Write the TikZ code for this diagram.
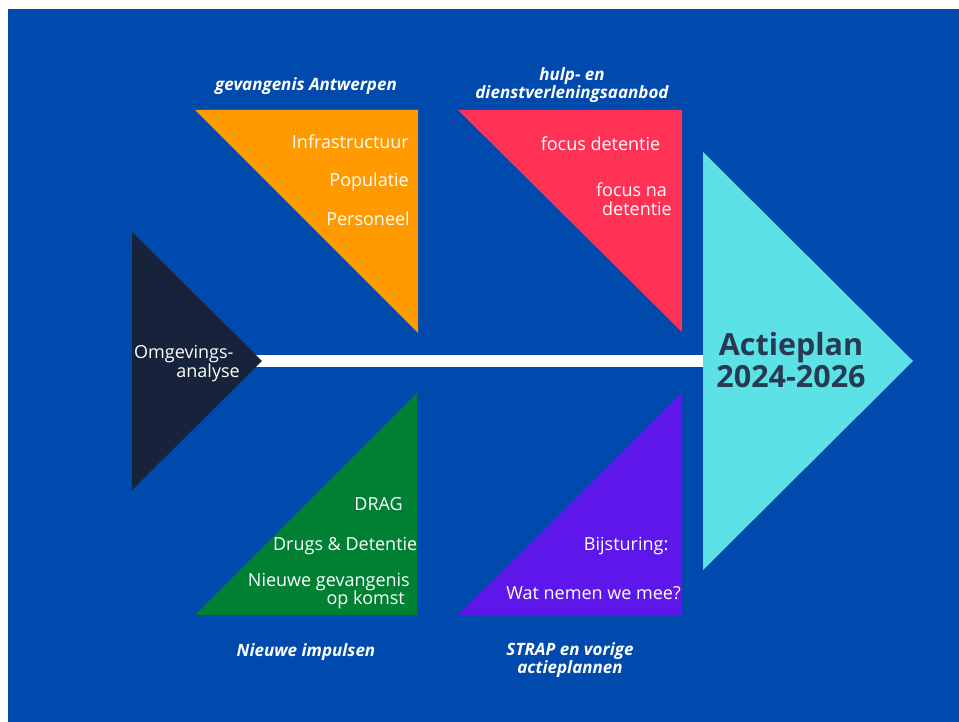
\documentclass[tikz,border=0pt]{standalone}
\usepackage{fontspec}
\setmainfont{Open Sans}
\definecolor{bgblue}{HTML}{004AAD}
\definecolor{orng}{HTML}{FF9A00}
\definecolor{rd}{HTML}{FF3154}
\definecolor{navy}{HTML}{17223B}
\definecolor{grn}{HTML}{008033}
\definecolor{purp}{HTML}{5E17EB}
\definecolor{cyn}{HTML}{5CE1E6}
\definecolor{darktxt}{HTML}{263A52}
\begin{document}
\begin{tikzpicture}[x=1pt,y=-1pt,
  item/.style={text=white,font=\fontsize{18}{18}\selectfont,inner sep=0pt},
  head/.style={text=white,font=\fontsize{17}{17}\selectfont\bfseries\itshape,inner sep=0pt},
  big/.style={text=darktxt,font=\fontsize{30.5}{30.5}\selectfont\bfseries,inner sep=0pt}]
\useasboundingbox (0,0) rectangle (959,722);
\fill[white] (0,0) rectangle (959,722);
\fill[bgblue] (8,9) rectangle (959,722);
% shapes
\coordinate (navyTop) at (132,232);
\coordinate (navyTip) at (262,361);
\coordinate (navyBot) at (132,490);
\coordinate (cyTop) at (703,152);
\coordinate (cyTip) at (913,361);
\coordinate (cyBot) at (703,570);
\coordinate (barL) at (255,361);
\coordinate (barR) at (704,361);
\draw[white,line width=12pt] (barL) -- (barR);
\fill[navy] (navyTop) -- (navyTip) -- (navyBot) -- cycle;
\fill[cyn] (cyTop) -- (cyTip) -- (cyBot) -- cycle;
\fill[orng] (195,110) -- (418,110) -- (418,333) -- cycle;
\fill[rd] (458,110) -- (682,110) -- (682,332) -- cycle;
\fill[grn] (195,615) -- (417,393) -- (417,615) -- cycle;
\fill[purp] (458,615) -- (682,393) -- (682,615) -- cycle;
% headers
\node[head,anchor=base] (h1) at (306,90.5) {gevangenis Antwerpen};
\node[head,anchor=base] (h2a) at (572,80.5) {hulp- en};
\node[head,anchor=base] (h2b) at (572,98.5) {dienstverleningsaanbod};
\node[head,anchor=base] (h3) at (306,656) {Nieuwe impulsen};
\node[head,anchor=base] (h4a) at (570,655.5) {STRAP en vorige};
\node[head,anchor=base] (h4b) at (570,673.5) {actieplannen};
% orange items
\node[item,anchor=base east] (o1) at (409,149) {Infrastructuur};
\node[item,anchor=base east] (o2) at (409,187) {Populatie};
\node[item,anchor=base east] (o3) at (410,225.5) {Personeel};
% red items
\node[item,anchor=base] (r1) at (600.5,150.5) {focus detentie};
\node[item,anchor=base] (r2a) at (631.5,196.5) {focus na};
\node[item,anchor=base] (r2b) at (637,215.5) {detentie};
% navy
\node[item,anchor=base west] (n1) at (134,358.5) {Omgevings-};
\node[item,anchor=base east] (n2) at (240,377) {analyse};
% green items
\node[item,anchor=base east] (g1) at (403,510.5) {DRAG};
\node[item,anchor=base east] (g2) at (417.5,550.5) {Drugs \& Detentie};
\node[item,anchor=base east] (g3a) at (410,586) {Nieuwe gevangenis};
\node[item,anchor=base east] (g3b) at (405,604.5) {op komst};
% purple items
\node[item,anchor=base east] (p1) at (668.5,550.5) {Bijsturing:};
\node[item,anchor=base east] (p2) at (681,599) {Wat nemen we mee?};
% cyan
\node[big,anchor=base] (c1) at (791,355) {Actieplan};
\node[big,anchor=base] (c2) at (791,387.5) {2024-2026};
\end{tikzpicture}
\end{document}
